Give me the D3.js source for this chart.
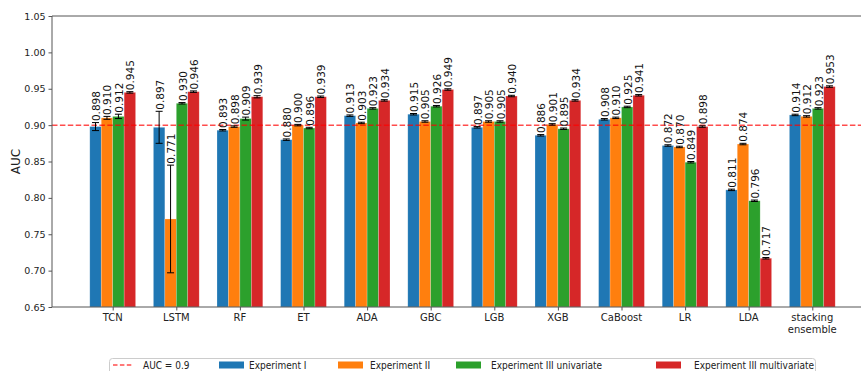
<!DOCTYPE html>
<html>
<head>
<meta charset="utf-8">
<script src="https://cdn.jsdelivr.net/npm/d3@7/dist/d3.min.js"></script>
<style>
  html, body { margin: 0; padding: 0; background: #fff; }
  svg { display: block; font-family: "DejaVu Sans", sans-serif; }
</style>
</head>
<body>
<svg id="chart" width="861" height="371"></svg>
<script>
// ---------- data ----------
const categories = ["TCN", "LSTM", "RF", "ET", "ADA", "GBC", "LGB", "XGB", "CaBoost", "LR", "LDA", "stacking ensemble"];
const seriesNames = ["Experiment I", "Experiment II", "Experiment III univariate", "Experiment III multivariate"];
const expI     = [0.898, 0.897, 0.893, 0.880, 0.913, 0.915, 0.897, 0.886, 0.908, 0.872, 0.811, 0.914];
const expII    = [0.910, 0.771, 0.898, 0.900, 0.903, 0.905, 0.905, 0.901, 0.910, 0.870, 0.874, 0.912];
const expIIIu  = [0.912, 0.930, 0.909, 0.896, 0.923, 0.926, 0.905, 0.895, 0.925, 0.849, 0.796, 0.923];
const expIIIm  = [0.945, 0.946, 0.939, 0.939, 0.934, 0.949, 0.940, 0.934, 0.941, 0.898, 0.717, 0.953];
const errI     = [0.0055, 0.022, 0.001, 0.001, 0.001, 0.001, 0.001, 0.001, 0.001, 0.001, 0.001, 0.001];
const errII    = [0.002, 0.074, 0.001, 0.001, 0.001, 0.001, 0.001, 0.001, 0.001, 0.001, 0.001, 0.001];
const errIIIu  = [0.003, 0.001, 0.002, 0.001, 0.001, 0.001, 0.001, 0.001, 0.001, 0.001, 0.001, 0.001];
const errIIIm  = [0.001, 0.001, 0.0015, 0.001, 0.001, 0.001, 0.001, 0.001, 0.001, 0.001, 0.001, 0.001];
const yTicks = [0.65, 0.70, 0.75, 0.80, 0.85, 0.90, 0.95, 1.00, 1.05];
const threshold = 0.9;
const thresholdLabel = "AUC = 0.9";
const yLabel = "AUC";

const values = [expI, expII, expIIIu, expIIIm];
const errors = [errI, errII, errIIIu, errIIIm];
const colors = ["#1f77b4", "#ff7f0e", "#2ca02c", "#d62728"];

(function () {
// ---------- layout ----------
const W = 861, H = 371;
const pL = 52, pR = 873, pT = 16, pB = 307;
const svg = d3.select("#chart");
svg.append("rect").attr("width", W).attr("height", H).attr("fill", "#fff");

const x = d3.scalePoint().domain(categories).range([112.7, 812.3]);
const step = x.step();
const barW = 0.18 * step;
const y = d3.scaleLinear().domain([0.65, 1.05]).range([pB, pT]);

const g = svg.append("g");

const flat = [];
values.forEach((arr, si) => arr.forEach((v, ci) => flat.push({
  si, ci, v, e: errors[si][ci],
  cx: x(categories[ci]) + (si - 1.5) * barW
})));

g.selectAll("rect.bar").data(flat).enter().append("rect")
  .attr("class", "bar")
  .attr("x", d => d.cx - barW / 2)
  .attr("width", barW)
  .attr("y", d => y(d.v))
  .attr("height", d => y(0.65) - y(d.v))
  .attr("fill", d => colors[d.si])
  .attr("stroke", "rgba(255,255,255,0.35)")
  .attr("stroke-width", 0.6);

g.append("line")
  .attr("x1", pL).attr("x2", W)
  .attr("y1", y(threshold)).attr("y2", y(threshold))
  .attr("stroke", "red").attr("stroke-opacity", 0.7)
  .attr("stroke-width", 1.5).attr("stroke-dasharray", "5.5,2.4");

const cap = 3.5;
const eb = g.selectAll("g.err").data(flat).enter().append("g").attr("class", "err")
  .attr("stroke", "#000").attr("stroke-width", 1);
eb.append("line").attr("x1", d => d.cx).attr("x2", d => d.cx)
  .attr("y1", d => y(d.v + d.e)).attr("y2", d => y(d.v - d.e));
eb.append("line").attr("x1", d => d.cx - cap).attr("x2", d => d.cx + cap)
  .attr("y1", d => y(d.v + d.e)).attr("y2", d => y(d.v + d.e));
eb.append("line").attr("x1", d => d.cx - cap).attr("x2", d => d.cx + cap)
  .attr("y1", d => y(d.v - d.e)).attr("y2", d => y(d.v - d.e));

g.selectAll("text.val").data(flat).enter().append("text")
  .attr("class", "val")
  .attr("transform", d => `translate(${d.cx + 0.5},${y(d.v + d.e) - 1.5}) rotate(-90)`)
  .attr("text-anchor", "start")
  .attr("dominant-baseline", "central")
  .attr("font-size", "10.5px")
  .attr("fill", "#111")
  .text(d => d.v.toFixed(3));

const spine = svg.append("g").attr("stroke", "#555").attr("stroke-width", 1).attr("fill", "none");
spine.append("line").attr("x1", pL).attr("x2", pL).attr("y1", pT).attr("y2", pB);
spine.append("line").attr("x1", pL).attr("x2", W).attr("y1", pT).attr("y2", pT);
spine.append("line").attr("x1", pL).attr("x2", W).attr("y1", pB).attr("y2", pB);

const yAxis = svg.append("g").attr("transform", `translate(${pL},0)`)
  .call(d3.axisLeft(y).tickValues(yTicks).tickFormat(d3.format(".2f")).tickSize(3.5).tickPadding(3));
yAxis.select(".domain").remove();
yAxis.selectAll("line").attr("stroke", "#555");
yAxis.selectAll("text").attr("font-size", "9.5px").attr("fill", "#222").attr("font-family", "DejaVu Sans");

const xAxis = svg.append("g").attr("transform", `translate(0,${pB})`)
  .call(d3.axisBottom(x).tickSize(3.5).tickPadding(3).tickFormat(""));
xAxis.select(".domain").remove();
xAxis.selectAll("line").attr("stroke", "#555");
const xl = svg.append("g");
categories.forEach(c => {
  const lines = c === "stacking ensemble" ? ["stacking", "ensemble"] : [c];
  lines.forEach((t, i) => {
    xl.append("text").attr("x", x(c)).attr("y", 321 + i * 12)
      .attr("text-anchor", "middle").attr("font-size", "10px").attr("fill", "#222")
      .text(t);
  });
});

svg.append("text")
  .attr("transform", `translate(19.5,${(pT + pB) / 2}) rotate(-90)`)
  .attr("text-anchor", "middle").attr("font-size", "12px").attr("fill", "#222")
  .text(yLabel);

const lg = svg.append("g");
lg.append("rect").attr("x", 109.5).attr("y", 358.5).attr("width", 706).attr("height", 24)
  .attr("rx", 3).attr("fill", "#fff").attr("stroke", "#ccc").attr("stroke-width", 1);
const ly = 365;
lg.append("line").attr("x1", 113).attr("x2", 133).attr("y1", ly).attr("y2", ly)
  .attr("stroke", "red").attr("stroke-opacity", 0.7).attr("stroke-width", 1.5)
  .attr("stroke-dasharray", "4.5,2.4");
const legText = (tx, label) => lg.append("text")
  .attr("transform", `translate(${tx},${ly}) scale(0.9,1)`)
  .attr("dominant-baseline", "central")
  .attr("font-size", "10px").attr("fill", "#222").text(label);
legText(143, thresholdLabel);
const patchX = [219, 338, 456, 656];
const textX = [249, 370, 491, 694];
seriesNames.forEach((n, i) => {
  lg.append("rect").attr("x", patchX[i]).attr("y", ly - 3.5).attr("width", 25).attr("height", 7)
    .attr("fill", colors[i]);
  legText(textX[i], n);
});
})();
</script>
</body>
</html>
